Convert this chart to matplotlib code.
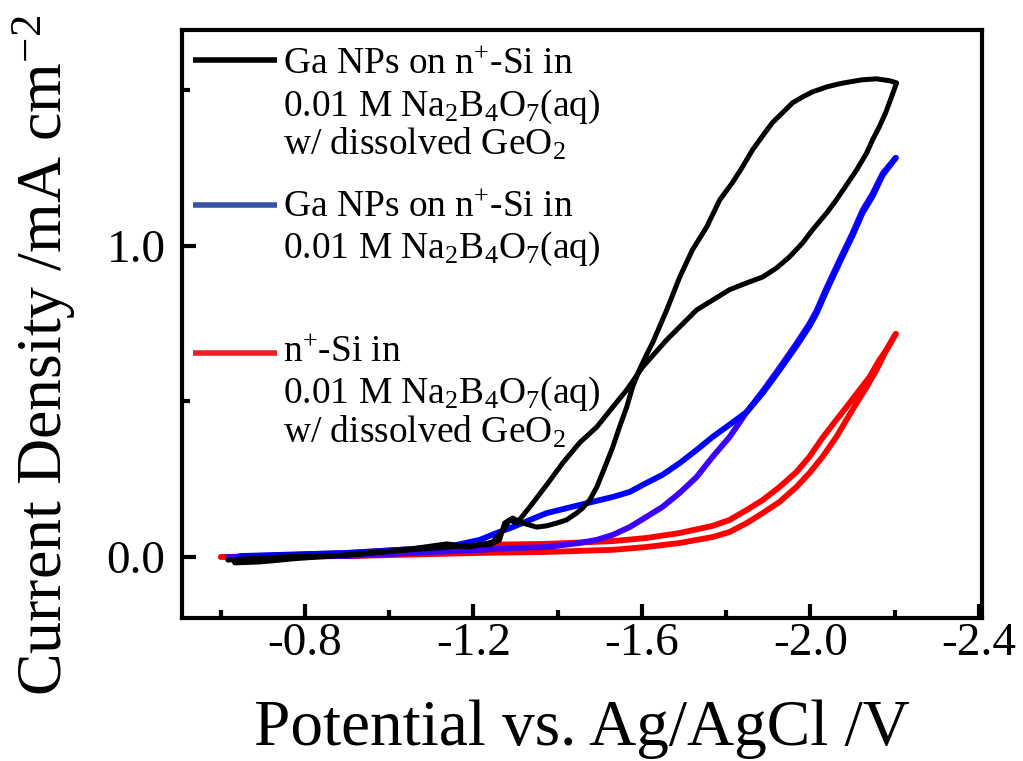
import matplotlib
matplotlib.use("Agg")
import matplotlib.pyplot as plt
import numpy as np
from matplotlib.ticker import MultipleLocator, FormatStrFormatter

plt.rcParams["font.family"] = ["Liberation Serif", "DejaVu Serif"]
plt.rcParams["mathtext.fontset"] = "custom"
plt.rcParams["mathtext.rm"] = "Liberation Serif"
plt.rcParams["mathtext.it"] = "Liberation Serif:italic"
plt.rcParams["axes.unicode_minus"] = False

# Ga NPs on n+-Si with dissolved GeO2 (black): forward scan, then reverse scan
black_fwd_v = [-0.617, -0.740, -0.899, -1.020, -1.137, -1.191, -1.246, -1.270, -1.286,
               -1.303, -1.334, -1.374, -1.412, -1.452, -1.493, -1.531, -1.564, -1.602,
               -1.659, -1.730, -1.808, -1.849, -1.887, -1.920, -1.951, -1.982, -2.005,
               -2.039, -2.062, -2.086, -2.110, -2.134, -2.148, -2.164, -2.179, -2.193,
               -2.205]
black_fwd_j = [-0.010, 0.000, 0.006, 0.020, 0.042, 0.032, 0.048, 0.087, 0.119,
               0.109, 0.161, 0.232, 0.302, 0.367, 0.418, 0.482, 0.537, 0.611,
               0.698, 0.794, 0.859, 0.881, 0.900, 0.929, 0.965, 1.010, 1.051,
               1.106, 1.148, 1.196, 1.244, 1.299, 1.341, 1.383, 1.428, 1.479,
               1.524]
black_rev_v = [-2.188, -2.157, -2.124, -2.093, -2.069, -2.039, -2.005, -1.982, -1.958,
               -1.934, -1.910, -1.887, -1.863, -1.839, -1.815, -1.785, -1.754, -1.720,
               -1.690, -1.659, -1.626, -1.611, -1.594, -1.578, -1.564, -1.547, -1.531,
               -1.516, -1.493, -1.476, -1.459, -1.445, -1.421, -1.398, -1.374, -1.350,
               -1.317, -1.293, -1.274, -1.262, -1.239, -1.215, -1.137, -1.000, -0.899,
               -0.780, -0.693, -0.633]
black_rev_j = [1.531, 1.537, 1.534, 1.527, 1.521, 1.511, 1.495, 1.479, 1.460,
               1.428, 1.396, 1.354, 1.309, 1.254, 1.203, 1.148, 1.061, 0.987,
               0.900, 0.794, 0.690, 0.650, 0.601, 0.547, 0.482, 0.418, 0.354,
               0.302, 0.225, 0.183, 0.157, 0.141, 0.119, 0.109, 0.100, 0.096,
               0.109, 0.125, 0.109, 0.055, 0.039, 0.039, 0.032, 0.018, 0.006,
               -0.005, -0.016, -0.019]

# Ga NPs on n+-Si without GeO2 (blue)
blue_fwd_v = [-0.617, -0.899, -1.215, -1.293, -1.374, -1.452, -1.493, -1.531, -1.571,
              -1.611, -1.649, -1.690, -1.730, -1.768, -1.808, -1.849, -1.887, -1.927,
              -1.967, -1.998, -2.015, -2.039, -2.069, -2.100, -2.124, -2.148, -2.172,
              -2.203]
blue_fwd_j = [0.000, 0.003, 0.023, 0.029, 0.032, 0.045, 0.055, 0.071, 0.096,
              0.129, 0.161, 0.206, 0.257, 0.322, 0.385, 0.466, 0.533, 0.608,
              0.686, 0.750, 0.792, 0.866, 0.953, 1.040, 1.114, 1.168, 1.233,
              1.283]
blue_rev_v = [-2.203, -2.172, -2.148, -2.124, -2.100, -2.069, -2.039, -2.015, -1.998,
              -1.967, -1.927, -1.887, -1.849, -1.808, -1.768, -1.730, -1.690, -1.649,
              -1.611, -1.571, -1.531, -1.452, -1.374, -1.334, -1.293, -1.255, -1.215,
              -1.137, -0.899, -0.645]
blue_rev_j = [1.283, 1.228, 1.160, 1.106, 1.032, 0.945, 0.858, 0.784, 0.742,
              0.678, 0.601, 0.527, 0.466, 0.425, 0.386, 0.344, 0.302, 0.264,
              0.238, 0.209, 0.193, 0.167, 0.141, 0.119, 0.096, 0.077, 0.055,
              0.032, 0.013, 0.003]

# bare n+-Si with dissolved GeO2 (red)
red_fwd_v = [-0.600, -0.906, -1.215, -1.374, -1.531, -1.611, -1.690, -1.768, -1.808,
             -1.849, -1.887, -1.927, -1.967, -1.998, -2.029, -2.062, -2.086, -2.110,
             -2.134, -2.157, -2.181, -2.203]
red_fwd_j = [0.000, 0.003, 0.013, 0.016, 0.023, 0.032, 0.045, 0.064, 0.080,
             0.109, 0.141, 0.177, 0.225, 0.270, 0.322, 0.386, 0.441, 0.495,
             0.547, 0.601, 0.666, 0.717]
red_rev_v = [-2.203, -2.181, -2.164, -2.141, -2.117, -2.086, -2.062, -2.029, -1.998,
             -1.967, -1.927, -1.887, -1.849, -1.808, -1.768, -1.690, -1.611, -1.531,
             -1.374, -1.215, -0.906, -0.620]
red_rev_j = [0.717, 0.666, 0.633, 0.579, 0.537, 0.482, 0.441, 0.383, 0.322,
             0.273, 0.225, 0.183, 0.151, 0.119, 0.100, 0.077, 0.061, 0.051,
             0.042, 0.039, 0.013, 0.000]

legend_colors = ["#000000", "#3953a4", "#ed2024"]
legend_labels = [
    ["Ga NPs on n$^{+}$-Si in", "0.01 M Na$_{2}$B$_{4}$O$_{7}$(aq)", "w/ dissolved GeO$_{2}$"],
    ["Ga NPs on n$^{+}$-Si in", "0.01 M Na$_{2}$B$_{4}$O$_{7}$(aq)"],
    ["n$^{+}$-Si in", "0.01 M Na$_{2}$B$_{4}$O$_{7}$(aq)", "w/ dissolved GeO$_{2}$"],
]

fig = plt.figure(figsize=(10.23, 7.61), dpi=100)
ax = fig.add_axes([0.178, 0.188, 0.782, 0.773])

kw = dict(solid_joinstyle="round", solid_capstyle="round")
ax.plot(red_fwd_v, red_fwd_j, color="#ff0000", lw=4.2, **kw)
ax.plot(red_rev_v, red_rev_j, color="#ff0000", lw=4.2, **kw)
ax.plot(blue_fwd_v, blue_fwd_j, color="#3c00ff", lw=4.2, **kw)
ax.plot(blue_rev_v, blue_rev_j, color="#0000ff", lw=4.2, **kw)
ax.plot(np.concatenate([black_fwd_v, black_rev_v]),
        np.concatenate([black_fwd_j, black_rev_j]), color="black", lw=3.6, **kw)

ax.set_xlim(-0.508, -2.408)
ax.set_ylim(-0.196, 1.695)
ax.xaxis.set_major_locator(MultipleLocator(0.4))
ax.xaxis.set_minor_locator(MultipleLocator(0.2))
ax.yaxis.set_major_locator(MultipleLocator(1.0))
ax.yaxis.set_minor_locator(MultipleLocator(0.5))
ax.xaxis.set_major_formatter(FormatStrFormatter("%.1f"))
ax.yaxis.set_major_formatter(FormatStrFormatter("%.1f"))

for s in ax.spines.values():
    s.set_linewidth(3)
ax.tick_params(which="both", direction="in", width=3, labelsize=34)
ax.tick_params(which="major", length=10)
ax.tick_params(which="minor", length=6)
ax.tick_params(axis="x", pad=3)
ax.tick_params(axis="y", pad=12)

ax.set_xlabel("Potential vs. Ag/AgCl /V", fontsize=47, va="baseline")
ax.xaxis.set_label_coords(0.5, -0.216)
ax.set_ylabel("Current Density /mA cm$^{-2}$", fontsize=46, va="baseline",
              rotation_mode="anchor")
ax.yaxis.set_label_coords(-0.15, 0.447)

# legend drawn by hand so each swatch sits on the first line of its entry
swatch_y = [0.949, 0.702, 0.451]
text_y = [[0.927, 0.854, 0.787], [0.684, 0.612], [0.437, 0.366, 0.298]]
for col, lines, sy, ty in zip(legend_colors, legend_labels, swatch_y, text_y):
    ax.plot([0.014, 0.119], [sy, sy], color=col, lw=4, transform=ax.transAxes,
            solid_capstyle="butt")
    for line, y in zip(lines, ty):
        ax.text(0.126, y, line, transform=ax.transAxes, fontsize=27,
                ha="left", va="baseline")

fig.savefig("out.png", dpi=100)
